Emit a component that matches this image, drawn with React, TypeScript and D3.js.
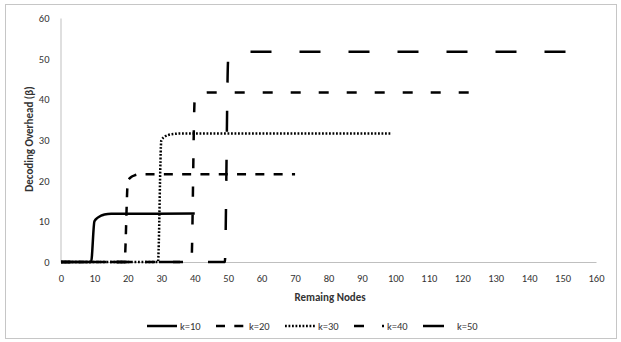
import React, { useRef, useEffect } from 'react';
import { select, scaleLinear, axisBottom, axisLeft, line, curveMonotoneX, range } from 'd3';

// series: [remaining nodes, decoding overhead]
const k10: [number, number][] = [[0, 0], [9, 0], [10, 10], [11, 10.9], [12, 11.4], [13, 11.7], [15, 11.85], [40, 11.9]];
const k20: [number, number][] = [[0, 0], [19, 0], [20, 19.9], [21, 20.9], [22, 21.3], [24, 21.6], [70, 21.6]];
const k30: [number, number][] = [[0, 0], [29, 0], [30, 29.9], [31, 30.8], [32, 31.2], [34, 31.5], [36, 31.6], [99, 31.6]];
const k40: [number, number][] = [[0, 0], [39, 0], [40, 40.2], [41, 41.1], [42, 41.5], [44, 41.7], [125, 41.7]];
const k50: [number, number][] = [[0, 0], [49, 0], [50, 49.8], [51, 51], [52, 51.5], [54, 51.7], [151, 51.7]];

const seriesNames = ['k=10', 'k=20', 'k=30', 'k=40', 'k=50'];
const seriesData = [k10, k20, k30, k40, k50];
const dashes = ['', '9,9.3', '1.8,1.7', '10,18', '21,28'];

const xTicks = range(0, 161, 10);
const yTicks = range(0, 61, 10);

const FONT = 'Carlito, Calibri, Lato, sans-serif';

export default function App() {
  const svgRef = useRef<SVGSVGElement>(null);

  useEffect(() => {
    const svg = select(svgRef.current);
    svg.selectAll('*').remove();

    const x = scaleLinear().domain([0, 160]).range([61, 596]);
    const y = scaleLinear().domain([0, 60]).range([262, 18]);

    // outer frame
    svg.append('rect')
      .attr('x', 5.5).attr('y', 4.5)
      .attr('width', 611).attr('height', 334)
      .attr('fill', 'white')
      .attr('stroke', '#c6c6c6');

    const xAxis = axisBottom(x).tickValues(xTicks).tickSize(0).tickSizeOuter(0).tickPadding(12.5);
    const gx = svg.append('g').attr('transform', 'translate(0,262)').call(xAxis);

    const yAxis = axisLeft(y).tickValues(yTicks).tickSize(0).tickSizeOuter(0).tickPadding(11);
    const gy = svg.append('g').attr('transform', 'translate(60.5,0)').call(yAxis);

    [gx, gy].forEach(g => {
      g.select('.domain').attr('stroke', '#bfbfbf').attr('stroke-width', 1);
      g.selectAll('text').attr('font-family', FONT).attr('font-size', 10.5).attr('fill', '#333');
    });

    const path = line<[number, number]>()
      .x(d => x(d[0]))
      .y(d => y(d[1]))
      .curve(curveMonotoneX);

    seriesData.forEach((s, i) => {
      svg.append('path')
        .attr('d', path(s))
        .attr('fill', 'none')
        .attr('stroke', 'black')
        .attr('stroke-width', 2.5)
        .attr('stroke-dasharray', dashes[i] || null);
    });

    // axis titles
    svg.append('text')
      .attr('x', 330).attr('y', 301)
      .attr('text-anchor', 'middle')
      .attr('font-family', FONT).attr('font-size', 11).attr('font-weight', 'bold')
      .attr('fill', '#333')
      .text('Remaing Nodes');

    svg.append('text')
      .attr('transform', 'translate(33,139) rotate(-90)')
      .attr('text-anchor', 'middle')
      .attr('font-family', FONT).attr('font-size', 11).attr('font-weight', 'bold')
      .attr('fill', '#333')
      .text('Decoding Overhead (β)');

    // legend
    const lg = svg.append('g').attr('transform', 'translate(147,326)');
    seriesNames.forEach((name, i) => {
      const item = lg.append('g').attr('transform', `translate(${i * 69},0)`);
      item.append('line')
        .attr('x1', 0).attr('x2', 30).attr('y1', 0).attr('y2', 0)
        .attr('stroke', 'black').attr('stroke-width', 2.5)
        .attr('stroke-dasharray', dashes[i] || null);
      item.append('text')
        .attr('x', i === 4 ? 34 : 33).attr('y', 3.5)
        .attr('font-family', FONT).attr('font-size', 10.5)
        .attr('fill', '#333')
        .text(name);
    });
  }, []);

  return (
    <svg
      ref={svgRef}
      width={621}
      height={342}
      style={{ position: 'absolute', left: 0, top: 0, background: 'white' }}
    />
  );
}
